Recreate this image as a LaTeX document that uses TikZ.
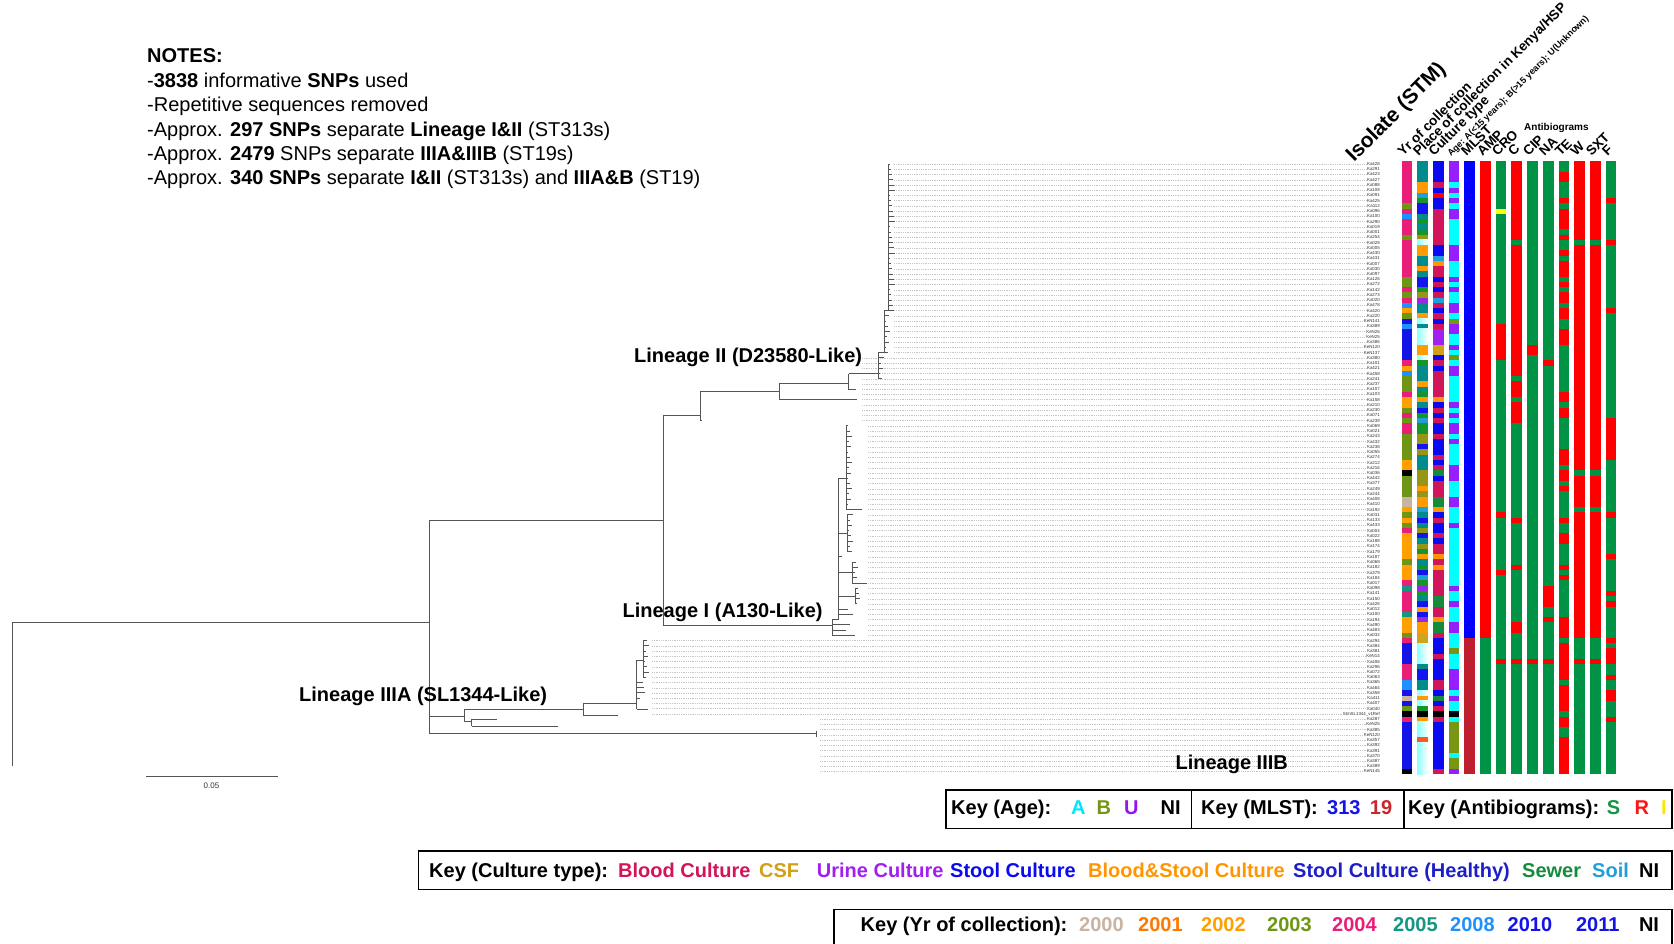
\documentclass[tikz,border=0pt]{standalone}
\usepackage{fontspec}
\setmainfont{Liberation Sans}
% year colours
\definecolor{y00}{RGB}{200,180,160}
\definecolor{y01}{RGB}{255,120,0}
\definecolor{y02}{RGB}{255,160,0}
\definecolor{y03}{RGB}{110,150,20}
\definecolor{y04}{RGB}{232,30,120}
\definecolor{y05}{RGB}{20,150,130}
\definecolor{y08}{RGB}{30,144,255}
\definecolor{y10}{RGB}{20,20,230}
\definecolor{y11}{RGB}{30,30,200}
% place colours
\definecolor{ptl}{RGB}{0,140,140}
\definecolor{por}{RGB}{255,155,0}
\definecolor{plb}{RGB}{30,160,210}
\definecolor{pgr}{RGB}{20,150,40}
\definecolor{pbl}{RGB}{20,20,240}
\definecolor{pol}{RGB}{150,150,20}
\definecolor{pgd}{RGB}{205,165,30}
\definecolor{ppu}{RGB}{150,40,230}
\definecolor{pred}{RGB}{255,90,30}
% culture colours
\definecolor{ccr}{RGB}{210,20,90}
\definecolor{cbl}{RGB}{10,10,240}
\definecolor{cgd}{RGB}{210,160,20}
\definecolor{cor}{RGB}{255,150,0}
\definecolor{cpu}{RGB}{160,32,240}
\definecolor{clb}{RGB}{30,160,220}
\definecolor{cgr}{RGB}{20,140,60}
\definecolor{cred}{RGB}{255,0,0}
% age
\definecolor{acy}{RGB}{0,255,255}
\definecolor{aol}{RGB}{120,150,20}
\definecolor{apu}{RGB}{150,30,255}
% mlst / antibiograms
\definecolor{mbl}{RGB}{0,0,255}
\definecolor{mrd}{RGB}{190,30,45}
\definecolor{abG}{RGB}{0,146,69}
\definecolor{abR}{RGB}{255,0,0}
\definecolor{abY}{RGB}{255,255,0}
% key text colours
\definecolor{kA}{RGB}{0,230,255}
\definecolor{kB}{RGB}{120,150,20}
\definecolor{kU}{RGB}{150,20,240}
\definecolor{k313}{RGB}{20,20,230}
\definecolor{k19}{RGB}{200,40,45}
\definecolor{kS}{RGB}{20,150,70}
\definecolor{kR}{RGB}{255,20,20}
\definecolor{kI}{RGB}{255,230,0}
\definecolor{treec}{RGB}{85,85,85}

\newcommand{\stripcol}[2]{\foreach \a/\b/\c in {#2}{\fill[\c] ({1401.5+15.7*#1},{161.4+5.237*\a}) rectangle ({1412.2+15.7*#1},{161.4+5.237*(\b+1)});}}

\begin{document}
\begin{tikzpicture}[x=1pt,y=-1pt,
  notes/.style={anchor=base west, inner sep=0, font=\fontsize{20}{24}\selectfont},
  lin/.style={anchor=base west, inner sep=0, font=\fontsize{20}{24}\selectfont\bfseries},
  hdr/.style={rotate=45, anchor=base west, inner sep=0, font=\fontsize{13.5}{16}\selectfont\bfseries},
  key/.style={anchor=base west, inner sep=0, font=\fontsize{20}{24}\selectfont\bfseries},
  leaf/.style={anchor=east, inner sep=0pt, font=\fontsize{4.4}{5}\selectfont, text=black!80},
  branch/.style={draw=treec, line width=0.9pt},
  lead/.style={draw=gray!45, line width=0.35pt, dash pattern=on 0.6pt off 1.2pt},
  keybox/.style={draw=black, line width=1.4pt},
  lcy/.style={left color=cyan!45, right color=white}]
\useasboundingbox (0,0) rectangle (1674,943);
\fill[white] (0,0) rectangle (1674,943);

% ---------------- notes ----------------
\node[notes] (n0) at (147,62.5) {\textbf{NOTES:}};
\node[notes] (n1) at (147,87) {-\textbf{3838} informative \textbf{SNPs} used};
\node[notes] (n2) at (147,111.5) {-Repetitive sequences removed};
\node[notes] (n3) at (147,136) {-Approx. \textbf{297 SNPs} separate \textbf{Lineage I\&II} (ST313s)};
\node[notes] (n4) at (147,160.5) {-Approx. \textbf{2479} SNPs separate \textbf{IIIA\&IIIB} (ST19s)};
\node[notes] (n5) at (147,184.5) {-Approx. \textbf{340 SNPs} separate \textbf{I\&II} (ST313s) and \textbf{IIIA\&B} (ST19)};

% ---------------- leaf labels ----------------
\foreach \r/\t in {0/Ka428,1/Ka291,2/Ka423,3/Ka427,4/Ka088,5/Ka108,6/Ka091,7/Ka425,8/Ka112,9/Ka096,
 10/Ka100,11/Ka290,12/Ka019,13/Ka001,14/Ka254,15/Ka028,16/Ka005,17/Ka430,18/Ka431,19/Ka007,
 20/Ka030,21/Ka097,22/Ka126,23/Ka272,24/Ka142,25/Ka273,26/Ka020,27/Ka478,28/Ka420,29/Ka220,
 30/KeN141,31/Ka389,32/KeN26,33/KeN25,34/Ka386,35/KeN120,36/KeN137,37/Ka380,38/Ka101,39/Ka421,
 40/Ka458,41/Ka241,42/Ka237,43/Ka107,44/Ka103,45/Ka158,46/Ka210,47/Ka230,48/Ka071,49/Ka239,
 50/Ka069,51/Ka021,52/Ka243,53/Ka432,54/Ka238,55/Ka055,56/Ka274,57/Ka212,58/Ka216,59/Ka036,
 60/Ka442,61/Ka377,62/Ka249,63/Ka244,64/Ka408,65/Ka410,66/Ka192,67/Ka031,68/Ka133,69/Ka433,
 70/Ka004,71/Ka022,72/Ka188,73/Ka174,74/Ka179,75/Ka187,76/Ka068,77/Ka182,78/Ka379,79/Ka184,
 80/Ka017,81/Ka098,82/Ka141,83/Ka150,84/Ka426,85/Ka012,86/Ka100,87/Ka194,88/Ka490,89/Ka483,
 90/Ka032,91/Ka294,92/Ka384,93/Ka381,94/KeN14,95/Ka406,96/Ka296,97/Ka072,98/Ka063,99/Ka365,
 100/Ka464,101/Ka358,102/Ka411,103/Ka407,104/Ka040,105/StmSL1344\_v1Ref,106/Ka287,107/KeN25,108/Ka385,109/KeN120,
 110/Ka357,111/Ka392,112/Ka391,113/Ka370,114/Ka387,115/Ka389,116/KeN145}
 {\node[leaf] (l\r) at (1380,{164+5.237*\r}) {\t};}

% leader lines
\foreach \r in {0,...,36}{\draw[lead] (894,{164+5.237*\r}) -- (l\r.west);}
\foreach \r in {37,...,49}{\draw[lead] (862,{164+5.237*\r}) -- (l\r.west);}
\foreach \r in {50,...,90}{\draw[lead] (868,{164+5.237*\r}) -- (l\r.west);}
\foreach \r in {91,...,105}{\draw[lead] (652,{164+5.237*\r}) -- (l\r.west);}
\foreach \r in {106,...,116}{\draw[lead] (820,{164+5.237*\r}) -- (l\r.west);}

% ---------------- tree ----------------
\coordinate (root) at (12.6,622.7);
\coordinate (rootb) at (12.6,766.3);
\coordinate (A) at (429.4,622.7);
\coordinate (At) at (429.4,520.6);
\coordinate (Ab) at (429.4,733.7);
\coordinate (B) at (663.6,520.6);
\coordinate (Bt) at (663.6,415.3);
\coordinate (Bb) at (663.6,625.5);
\coordinate (C) at (700.3,415.3);
\coordinate (D) at (779,391.6);
\coordinate (E) at (848.5,383.5);
\coordinate (F) at (878,373.7);
\coordinate (H) at (832,625.5);
\coordinate (J) at (464.3,716.7);
\coordinate (K) at (583.3,709.3);
\coordinate (L) at (636.7,703.3);
\coordinate (M) at (471.7,721.7);
\coordinate (IIIB) at (816,733.7);
\draw[branch] (rootb) -- (root) -- (A);
\draw[branch] (At) -- (Ab);
\draw[branch] (At) -- (B);
\draw[branch] (Bt) -- (Bb);
% Lineage II
\draw[branch] (Bt) -- (C);
\draw[branch] (700.3,391.6) -- (700.3,420.6) -- ++(2,0);
\draw[branch] (700.3,391.6) -- (D);
\draw[branch] (779,383.5) -- (779,399.7) -- (857,399.7);
\draw[branch] (779,383.5) -- (E);
\draw[branch] (848.5,373.7) -- (848.5,389.2) -- (856,389.2);
\draw[branch] (848.5,373.7) -- (F);
\draw[branch] (878,352.5) -- (878,378.7);
\foreach \r in {37,...,41}{\pgfmathsetmacro\L{1.5+mod(\r*37,5)}\draw[branch] (878,{164+5.237*\r}) -- ++(\L,0);}
\draw[branch] (878,352.5) -- (884,352.5);
\draw[branch] (884,310.6) -- (884,352.5);
\foreach \r in {29,...,36}{\pgfmathsetmacro\L{1.5+mod(\r*37,5)}\draw[branch] (884,{164+5.237*\r}) -- ++(\L,0);}
\draw[branch] (884,310.6) -- (888,310.6);
\draw[branch] (888,164) -- (888,310.6);
\foreach \r in {0,...,28}{\pgfmathsetmacro\L{1.5+mod(\r*37,6)}\draw[branch] (888,{164+5.237*\r}) -- ++(\L,0);}
% Lineage I
\draw[branch] (Bb) -- (H);
\draw[branch] (832,619.6) -- (832,635.3) -- (855,635.3);
\draw[branch] (832,630) -- (846,630);
\draw[branch] (832,624.8) -- (850,624.8);
\draw[branch] (832,619.6) -- (838,619.6);
\draw[branch] (838,478) -- (838,619.6);
\draw[branch] (838,609.1) -- (848,609.1);
\draw[branch] (838,614.4) -- (853,614.4);
\draw[branch] (838,556.8) -- (842,556.8);
\draw[branch] (838,478) -- (846,478);
\draw[branch] (846,425.9) -- (846,509.6) -- (862,509.6);
\foreach \r in {50,...,65}{\pgfmathsetmacro\L{1.5+mod(\r*37,5)}\draw[branch] (846,{164+5.237*\r}) -- ++(\L,0);}
\draw[branch] (838,533) -- (847,533);
\draw[branch] (847,514.9) -- (847,551.5);
\foreach \r in {67,...,74}{\pgfmathsetmacro\L{1.5+mod(\r*37,5)}\draw[branch] (847,{164+5.237*\r}) -- ++(\L,0);}
\draw[branch] (838,572) -- (852,572);
\draw[branch] (852,562) -- (852,583) -- (867,583);
\foreach \r in {76,...,79}{\pgfmathsetmacro\L{1.5+mod(\r*37,5)}\draw[branch] (852,{164+5.237*\r}) -- ++(\L,0);}
\draw[branch] (838,596) -- (855,596);
\draw[branch] (855,588.2) -- (855,603.9);
\foreach \r in {81,...,84}{\pgfmathsetmacro\L{2+mod(\r*37,4)}\draw[branch] (855,{164+5.237*\r}) -- ++(\L,0);}
% Lineage IIIA
\draw[branch] (429.4,716.7) -- (J);
\draw[branch] (464.3,709.3) -- (464.3,721.7);
\draw[branch] (464.3,709.3) -- (K);
\draw[branch] (583.3,703.3) -- (583.3,715) -- (618.3,715);
\draw[branch] (583.3,703.3) -- (L);
\draw[branch] (636.7,660) -- (636.7,709.3);
\draw[branch] (636.7,660) -- (643,660);
\draw[branch] (643,640.6) -- (643,677.3);
\foreach \r in {91,...,98}{\pgfmathsetmacro\L{2+mod(\r*37,5)}\draw[branch] (643,{164+5.237*\r}) -- ++(\L,0);}
\foreach \r in {99,...,102}{\pgfmathsetmacro\L{3+mod(\r*37,6)}\draw[branch] (636.7,{164+5.237*\r}) -- ++(\L,0);}
\draw[branch] (636.7,709.3) -- (648,709.3);
\draw[branch] (464.3,721.7) -- (M);
\draw[branch] (471.7,719.3) -- (471.7,726);
\draw[branch] (471.7,719.3) -- (497.3,719.3);
\draw[branch] (471.7,726) -- (558.3,726);
% Lineage IIIB branch
\draw[branch] (Ab) -- (IIIB);
\draw[branch] (816,731) -- (816,736.5);

% scale bar
\coordinate (sb1) at (146,776);
\coordinate (sb2) at (277.6,776);
\draw[branch] (sb1) -- (sb2);
\node[font=\fontsize{8}{9}\selectfont, text=black!80, inner sep=0] (sbl) at (211.5,785.5) {0.05};

% lineage labels
\node[lin] (lII) at (634,362) {Lineage II (D23580-Like)};
\node[lin] (lI) at (622.4,617.5) {Lineage I (A130-Like)};
\node[lin] (lIIIA) at (299,701) {Lineage IIIA (SL1344-Like)};
\node[lin] (lIIIB) at (1175.4,769) {Lineage IIIB};

% ---------------- strips ----------------
\stripcol{0}{0/7/y04,8/8/y03,9/9/y04,10/10/y08,11/13/y04,14/14/y03,15/21/y04,22/23/y03,24/24/y04,25/25/y03,26/26/y04,27/27/y08,28/28/y02,29/29/y03,30/30/y10,31/31/y08,32/37/y10,38/38/y04,39/39/y02,40/40/y08,41/43/y03,44/44/y04,45/46/y02,47/47/y03,48/48/y04,49/49/y03,50/51/y04,52/56/y03,57/58/y02,59/59/black,60/63/y03,64/65/y00,66/66/y02,67/67/y03,68/68/y02,69/69/y03,70/70/y04,71/75/y02,76/76/y03,77/79/y02,80/80/y04,81/81/y05,82/85/y04,86/86/y05,87/89/y02,90/90/y03,91/91/y04,92/95/y10,96/98/y04,99/100/y08,101/101/y10,102/102/y00,103/103/y10,104/104/y03,105/105/black,106/106/y04,107/115/y10,116/116/black}
\stripcol{1}{0/3/ptl,4/5/por,6/6/plb,7/7/pgr,8/9/pbl,10/10/ptl,11/11/pgr,12/12/ptl,13/13/pgr,14/14/pol,15/15/lcy,16/17/por,18/19/ptl,20/20/por,21/21/ptl,22/23/pbl,24/24/pgr,25/25/pol,26/26/ppu,27/28/ptl,29/29/por,30/30/lcy,31/31/ptl,32/34/lcy,35/36/por,37/37/lcy,38/38/pgr,39/41/ptl,42/42/por,43/43/ptl,44/44/pgr,45/45/por,46/46/ptl,47/47/pbl,48/48/pgr,49/49/plb,50/51/pgr,52/53/pol,54/54/pbl,55/55/pol,56/58/ptl,59/61/pol,62/62/por,63/63/pol,64/65/por,66/66/plb,67/67/ptl,68/68/pbl,69/69/ptl,70/70/pol,71/71/pbl,72/72/ptl,73/73/pol,74/74/pgr,75/75/por,76/76/ptl,77/77/pgr,78/78/pbl,79/79/plb,80/80/pgr,81/81/ppu,82/82/pgr,83/83/ptl,84/84/pbl,85/85/por,86/86/pbl,87/87/ppu,88/89/por,90/91/pgd,92/95/lcy,96/96/ptl,97/98/pbl,99/100/ptl,101/101/lcy,102/102/por,103/103/lcy,104/104/pgr,105/105/black,106/106/por,107/109/lcy,110/110/pred,111/116/lcy}
\stripcol{2}{0/3/cbl,4/4/ccr,5/5/cbl,6/6/cred,7/8/cbl,9/15/ccr,16/17/cbl,18/18/clb,19/19/cor,20/21/ccr,22/22/cbl,23/23/ccr,24/24/cbl,25/25/ccr,26/26/clb,27/27/ccr,28/28/cbl,29/29/ccr,30/30/cbl,31/31/ccr,32/34/cpu,35/36/cgd,37/37/cbl,38/38/ccr,39/39/cbl,40/44/ccr,45/45/cor,46/46/cbl,47/47/ccr,48/48/cbl,49/49/ccr,50/51/cbl,52/52/ccr,53/55/cbl,56/56/ccr,57/57/cbl,58/58/ccr,59/59/cgr,60/60/cbl,61/63/ccr,64/65/cgr,66/66/cor,67/67/cbl,68/68/ccr,69/70/cbl,71/71/ccr,72/72/cbl,73/74/ccr,75/75/cor,76/76/ccr,77/77/cor,78/82/ccr,83/84/cgr,85/86/ccr,87/87/cor,88/89/cgr,90/90/ccr,91/93/cbl,94/94/ccr,95/98/cbl,99/100/ccr,101/101/cbl,102/102/cgr,103/103/cbl,104/104/ccr,105/105/black,106/106/ccr,107/115/cbl,116/116/ccr}
\stripcol{3}{0/3/apu,4/4/acy,5/5/apu,6/6/acy,7/7/apu,8/8/acy,9/10/apu,11/15/acy,16/18/apu,19/21/acy,22/22/apu,23/23/acy,24/24/apu,25/26/acy,27/28/apu,29/29/acy,30/30/aol,31/32/apu,33/34/acy,35/35/apu,36/36/acy,37/37/aol,38/38/acy,39/40/apu,41/45/acy,46/46/apu,47/47/acy,48/48/apu,49/49/acy,50/51/apu,52/52/acy,53/53/apu,54/57/acy,58/60/apu,61/63/acy,64/65/apu,66/68/acy,69/69/apu,70/80/acy,81/81/apu,82/83/acy,84/84/apu,85/87/acy,88/89/apu,90/92/acy,93/93/aol,94/96/acy,97/100/apu,101/101/acy,102/102/apu,103/104/acy,105/105/black,106/106/acy,107/112/aol,113/113/acy,114/115/aol,116/116/apu}
\stripcol{4}{0/90/mbl,91/116/mrd}
\stripcol{5}{0/90/abR,91/116/abG}
\stripcol{6}{0/116/abG,9/9/abY,31/37/abR,67/67/abR,78/78/abR,95/95/abR}
\stripcol{7}{0/49/abR,50/116/abG,15/15/abG,41/41/abG,45/45/abG,68/68/abR,77/77/abR,88/89/abR,95/95/abR}
\stripcol{8}{0/116/abG,35/36/abR,95/95/abR}
\stripcol{9}{0/116/abG,38/38/abR,81/84/abR,87/87/abR,95/95/abR}
\stripcol{10}{0/116/abG,2/3/abR,7/7/abR,9/12/abR,14/14/abR,17/17/abR,19/21/abR,23/23/abR,25/26/abR,28/29/abR,32/34/abR,44/45/abR,47/48/abR,55/57/abR,59/60/abR,62/62/abR,68/68/abR,71/72/abR,77/77/abR,79/79/abR,87/90/abR,92/98/abR,100/104/abR,106/107/abR,110/116/abR}
\stripcol{11}{0/90/abR,91/94/abG,95/95/abR,96/116/abG,15/15/abG,59/59/abG,66/66/abG}
\stripcol{12}{0/90/abR,91/94/abG,95/95/abR,96/116/abG,15/15/abG,59/59/abG,66/66/abG}
\stripcol{13}{0/116/abG,7/7/abR,15/15/abR,28/28/abR,49/56/abR,67/67/abR,75/75/abR,82/82/abR,84/84/abR,91/91/abR,93/95/abR,98/98/abR,101/102/abR,106/106/abR}

% ---------------- header ----------------
\node[rotate=45, anchor=base west, inner sep=0, font=\fontsize{21}{24}\selectfont\bfseries] (hiso) at (1354,163) {Isolate (STM)};
\node[hdr] (hyr) at (1403,157) {Yr of collection};
\node[hdr] (hpl) at (1418.5,157) {Place of collection in Kenya/HSP};
\node[hdr] (hct) at (1434,157) {Culture type};
\node[rotate=45, anchor=base west, inner sep=0, font=\fontsize{9}{11}\selectfont\bfseries] (hage) at (1451,157) {Age: A(<15 years); B(>15 years); U(Unknown)};
\node[hdr] (hml) at (1466.5,157) {MLST};
\node[hdr] (h5) at (1482.5,157) {AMP};
\node[hdr] (h6) at (1497.5,157) {CRO};
\node[hdr] (h7) at (1513.5,157) {C};
\node[hdr] (h8) at (1528.5,157) {CIP};
\node[hdr] (h9) at (1544.5,157) {NA};
\node[hdr] (h10) at (1560.5,157) {TE};
\node[hdr] (h11) at (1576,157) {W};
\node[hdr] (h12) at (1591.5,157) {SXT};
\node[hdr] (h13) at (1607.5,157) {F};
\node[anchor=base west, inner sep=0, font=\fontsize{10}{12}\selectfont\bfseries] (hab) at (1524,130.5) {Antibiograms};

% ---------------- keys ----------------
\draw[keybox] (945.9,790) rectangle (1671.9,828.5);
\draw[keybox] (1191.4,790) -- (1191.4,828.5);
\draw[keybox] (1404,790) -- (1404,828.5);
\node[key] (ka) at (951,814) {Key (Age):};
\node[key,text=kA] (kaA) at (1070.8,814) {A};
\node[key,text=kB] (kaB) at (1096.4,814) {B};
\node[key,text=kU] (kaU) at (1124,814) {U};
\node[key] (kaN) at (1160.5,814) {NI};
\node[key] (km) at (1201,814) {Key (MLST):};
\node[key,text=k313] (km1) at (1327,814) {313};
\node[key,text=k19] (km2) at (1369.7,814) {19};
\node[key] (kab) at (1408,814) {Key (Antibiograms):};
\node[key,text=kS] (kabS) at (1606.7,814) {S};
\node[key,text=kR] (kabR) at (1634.5,814) {R};
\node[key,text=kI] (kabI) at (1661,814) {I};

\draw[keybox] (418.5,851) rectangle (1671.9,889.3);
\node[key] (kc) at (429,877) {Key (Culture type):};
\node[key,text=ccr] (kc1) at (618,877) {Blood Culture};
\node[key,text=cgd] (kc2) at (759,877) {CSF};
\node[key,text=cpu] (kc3) at (816.7,877) {Urine Culture};
\node[key,text=cbl] (kc4) at (950,877) {Stool Culture};
\node[key,text=cor] (kc5) at (1088,877) {Blood\&Stool Culture};
\node[key,text=y11] (kc6) at (1293,877) {Stool Culture (Healthy)};
\node[key,text=cgr] (kc7) at (1522,877) {Sewer};
\node[key,text=clb] (kc8) at (1592,877) {Soil};
\node[key] (kc9) at (1639,877) {NI};

\draw[keybox] (833.8,944) -- (833.8,909.6) -- (1671.9,909.6) -- (1671.9,944);
\node[key] (ky) at (860.5,931.5) {Key (Yr of collection):};
\node[key,text=y00] (ky0) at (1079,931.5) {2000};
\node[key,text=y01] (ky1) at (1138,931.5) {2001};
\node[key,text=y02] (ky2) at (1201,931.5) {2002};
\node[key,text=y03] (ky3) at (1267,931.5) {2003};
\node[key,text=y04] (ky4) at (1332,931.5) {2004};
\node[key,text=y05] (ky5) at (1393,931.5) {2005};
\node[key,text=y08] (ky8) at (1450,931.5) {2008};
\node[key,text=y10] (ky10) at (1507.5,931.5) {2010};
\node[key,text=y10] (ky11) at (1575.8,931.5) {2011};
\node[key] (kyN) at (1638.8,931.5) {NI};
\end{tikzpicture}
\end{document}
